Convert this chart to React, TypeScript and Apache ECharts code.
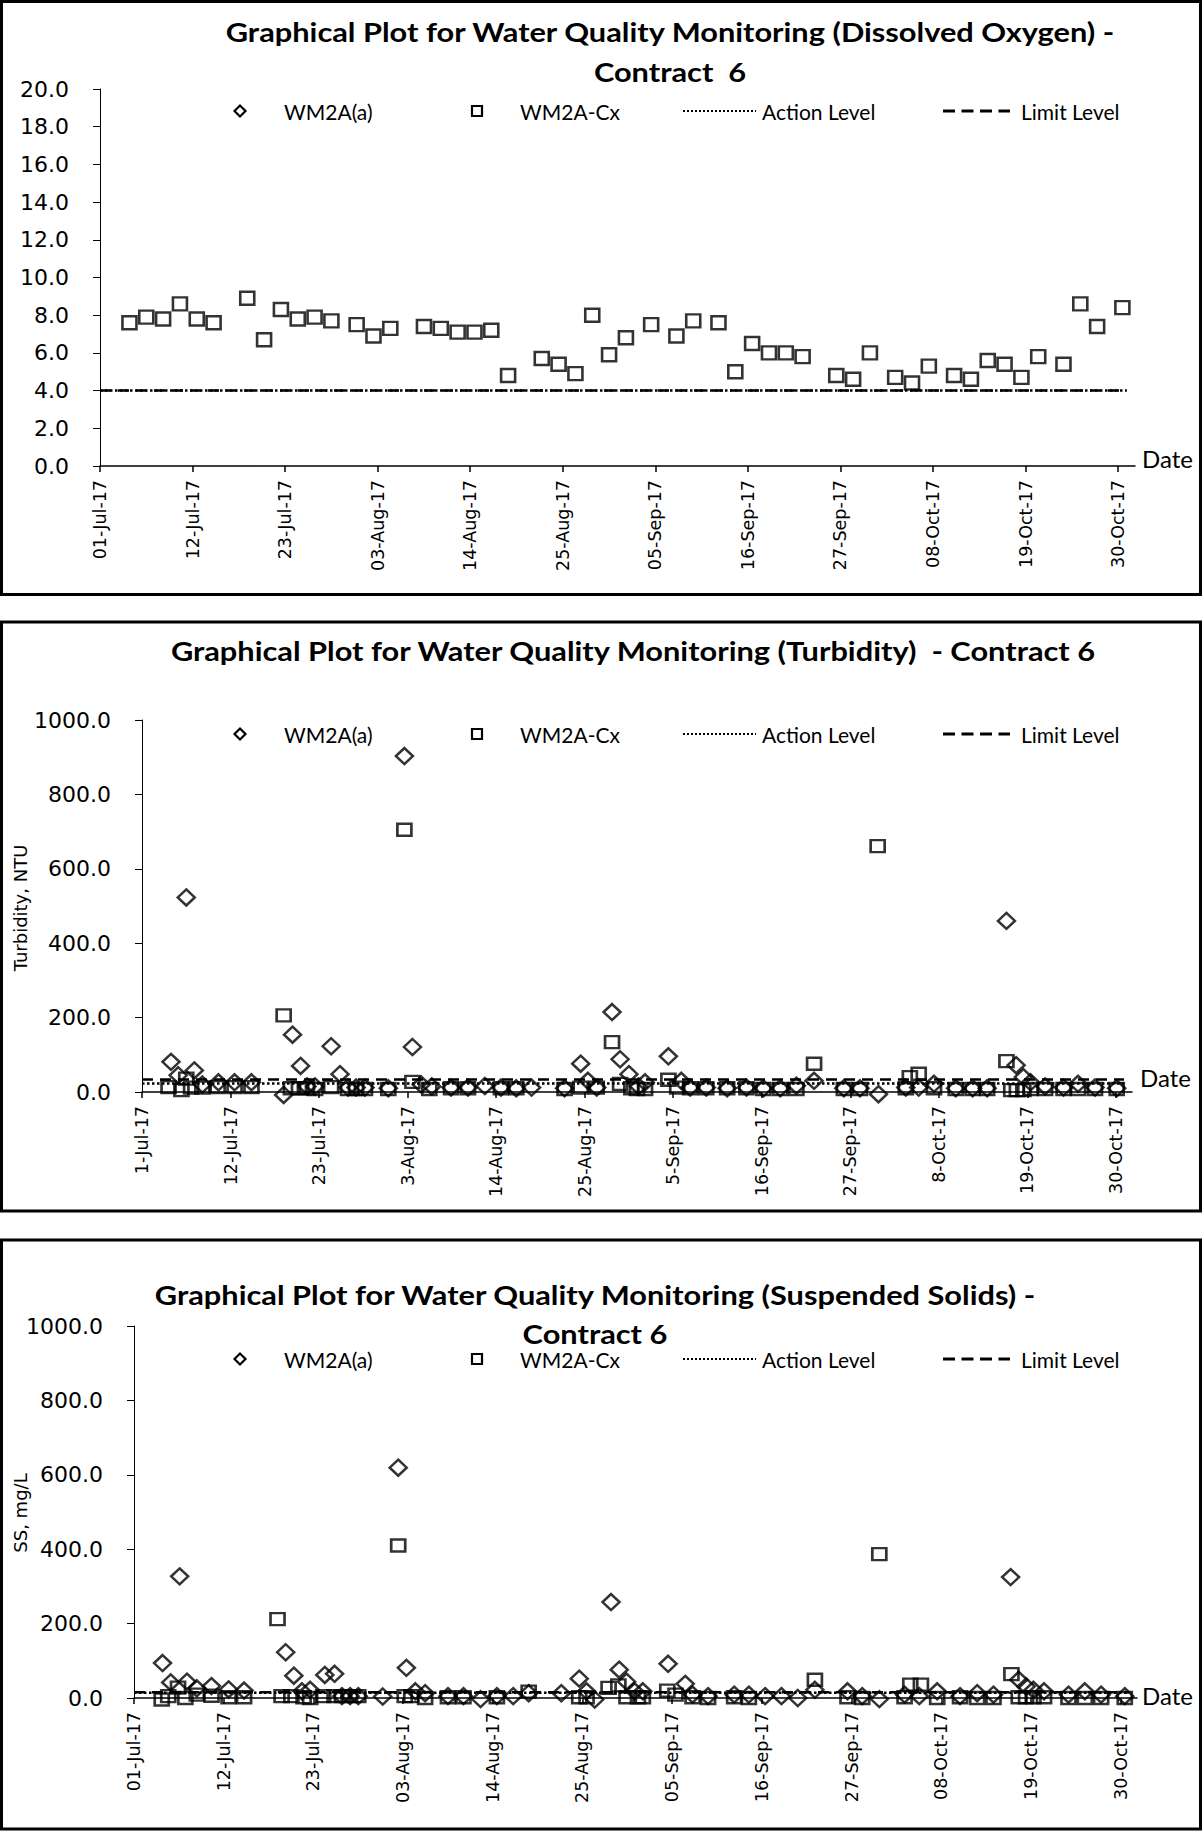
import React, { useEffect, useRef } from "react";
import * as echarts from "echarts";

// ---------- fonts ----------
const SANS = "Lato, 'Liberation Sans', sans-serif";
const VERD = "'DejaVu Sans', Verdana, sans-serif";

// ---------- shared x axis (Excel date serials) ----------
const X_MIN = 42917; // 01-Jul-17
const X_MAX = 43040; // 01-Nov-17
const X_TICKS = [42917, 42928, 42939, 42950, 42961, 42972, 42983, 42994, 43005, 43016, 43027, 43038];
const LEVEL_FROM = 42917;
const LEVEL_TO = 43039;
const MONTHS = ["Jan", "Feb", "Mar", "Apr", "May", "Jun", "Jul", "Aug", "Sep", "Oct", "Nov", "Dec"];

// ---------- Chart 1: Dissolved Oxygen ----------
const doDatesA: number[] = [];
const doValuesA: number[] = [];
const doDatesCx = [
  42920.5, 42922.5, 42924.5, 42926.5, 42928.5, 42930.5, 42934.5, 42936.5, 42938.5, 42940.5,
  42942.5, 42944.5, 42947.5, 42949.5, 42951.5, 42955.5, 42957.5, 42959.5, 42961.5, 42963.5,
  42965.5, 42969.5, 42971.5, 42973.5, 42975.5, 42977.5, 42979.5, 42982.5, 42985.5, 42987.5,
  42990.5, 42992.5, 42994.5, 42996.5, 42998.5, 43000.5, 43004.5, 43006.5, 43008.5, 43011.5,
  43013.5, 43015.5, 43018.5, 43020.5, 43022.5, 43024.5, 43026.5, 43028.5, 43031.5, 43033.5,
  43035.5, 43038.5,
];
const doValuesCx = [
  7.6, 7.9, 7.8, 8.6, 7.8, 7.6, 8.9, 6.7, 8.3, 7.8,
  7.9, 7.7, 7.5, 6.9, 7.3, 7.4, 7.3, 7.1, 7.1, 7.2,
  4.8, 5.7, 5.4, 4.9, 8.0, 5.9, 6.8, 7.5, 6.9, 7.7,
  7.6, 5.0, 6.5, 6.0, 6.0, 5.8, 4.8, 4.6, 6.0, 4.7,
  4.4, 5.3, 4.8, 4.6, 5.6, 5.4, 4.7, 5.8, 5.4, 8.6,
  7.4, 8.4,
];
const doActionLevel = 4.0;
const doLimitLevel = 4.0;

// ---------- Chart 2: Turbidity ----------
const turbDatesA = [
  42920.6, 42921.5, 42922.5, 42923.5, 42924.5, 42926.5, 42928.5, 42930.6, 42934.6, 42935.7,
  42936.7, 42937.5, 42938.5, 42940.5, 42941.6, 42942.6, 42943.6, 42944.7, 42947.6, 42949.6,
  42950.6, 42951.7, 42953.0, 42955.4, 42957.5, 42959.6, 42961.6, 42963.5, 42965.4, 42969.5,
  42971.5, 42972.4, 42973.5, 42975.4, 42976.4, 42977.5, 42978.7, 42979.5, 42982.4, 42984.0,
  42985.1, 42987.1, 42989.7, 42992.1, 42994.2, 42996.3, 42998.3, 43000.5, 43004.2, 43006.2,
  43008.5, 43011.9, 43013.5, 43015.4, 43018.1, 43020.2, 43022.0, 43024.4, 43025.6, 43026.5,
  43027.4, 43029.2, 43031.5, 43033.3, 43035.4, 43038.1,
];
const turbValuesA = [
  81, 45, 523, 58, 20, 26, 26, 26, -8, 154,
  70, 15, 15, 123, 48, 12, 12, 12, 10, 903,
  121, 20, 15, 12, 12, 16, 12, 10, 12, 10,
  76, 30, 12, 215, 88, 48, 15, 26, 96, 30,
  12, 12, 10, 12, 10, 10, 17, 30, 10, 10,
  -6, 12, 12, 22, 10, 10, 10, 460, 72, 40,
  26, 15, 12, 22, 12, 10,
];
const turbDatesCx = [
  42920.3, 42921.9, 42922.5, 42923.1, 42924.5, 42926.4, 42928.5, 42930.6, 42934.6, 42935.5,
  42936.5, 42937.5, 42938.5, 42940.5, 42942.6, 42943.6, 42944.7, 42947.6, 42949.6, 42950.6,
  42952.7, 42955.4, 42957.5, 42961.6, 42963.5, 42969.5, 42971.5, 42973.5, 42975.4, 42976.4,
  42977.8, 42978.5, 42979.5, 42982.4, 42983.5, 42985.1, 42987.1, 42989.7, 42992.1, 42994.2,
  42996.3, 42998.3, 43000.5, 43004.2, 43006.2, 43008.4, 43011.9, 43012.4, 43013.5, 43015.4,
  43018.1, 43020.2, 43022.0, 43024.4, 43025.0, 43025.7, 43026.5, 43027.4, 43029.2, 43031.5,
  43033.3, 43035.4, 43038.1,
];
const turbValuesCx = [
  13, 5, 36, 12, 12, 13, 13, 13, 206, 10,
  10, 10, 8, 13, 8, 8, 8, 8, 705, 27,
  8, 10, 10, 10, 10, 8, 12, 12, 134, 22,
  10, 8, 8, 33, 12, 10, 10, 10, 10, 8,
  8, 8, 76, 8, 8, 661, 10, 40, 49, 10,
  8, 8, 8, 83, 5, 5, 5, 8, 8, 8,
  8, 8, 8,
];
const turbActionLevel = 22.6;
const turbLimitLevel = 33.4;

// ---------- Chart 3: Suspended Solids ----------
const ssDatesA = [
  42920.5, 42921.5, 42922.6, 42923.5, 42924.7, 42926.5, 42928.6, 42930.5, 42935.6, 42936.6,
  42937.6, 42938.6, 42940.4, 42941.6, 42942.5, 42943.5, 42944.5, 42947.5, 42949.4, 42950.4,
  42951.5, 42952.7, 42955.5, 42957.4, 42959.5, 42961.5, 42963.5, 42965.4, 42969.4, 42971.6,
  42972.5, 42973.5, 42975.5, 42976.5, 42977.4, 42978.4, 42979.4, 42982.5, 42984.6, 42985.5,
  42987.4, 42990.6, 42992.4, 42994.4, 42996.4, 42998.4, 43000.5, 43004.5, 43006.3, 43008.4,
  43011.5, 43013.3, 43015.5, 43018.3, 43020.4, 43022.4, 43024.5, 43025.5, 43026.4, 43027.3,
  43028.6, 43031.6, 43033.6, 43035.6, 43038.5,
];
const ssValuesA = [
  94, 42, 327, 44, 26, 32, 23, 20, 123, 60,
  18, 22, 62, 65, 5, 5, 5, 4, 619, 81,
  18, 13, 5, 5, -3, 5, 5, 13, 13, 52,
  18, -4, 258, 76, 44, 18, 18, 92, 38, 9,
  5, 9, 9, 5, 5, 0, 22, 18, 5, -3,
  9, 5, 18, 5, 13, 9, 325, 49, 31, 22,
  18, 9, 18, 9, 5,
];
const ssDatesCx = [
  42920.4, 42921.2, 42922.4, 42923.3, 42924.7, 42926.5, 42928.6, 42930.5, 42934.6, 42935.1,
  42936.3, 42937.8, 42938.6, 42940.2, 42941.6, 42942.5, 42943.5, 42944.5, 42949.4, 42950.2,
  42951.0, 42952.7, 42955.5, 42957.4, 42961.5, 42965.4, 42971.6, 42972.5, 42975.2, 42976.4,
  42977.4, 42978.8, 42979.4, 42982.4, 42983.4, 42985.5, 42987.4, 42990.6, 42992.4, 43000.5,
  43004.5, 43006.3, 43008.4, 43011.5, 43012.2, 43013.5, 43015.5, 43018.3, 43020.4, 43022.4,
  43024.6, 43025.5, 43026.4, 43027.3, 43028.6, 43031.6, 43033.6, 43035.6, 43038.5,
];
const ssValuesCx = [
  -4, 5, 28, 0, 9, 6, 2, 2, 212, 5,
  5, 2, 0, 5, 5, 5, 5, 5, 410, 5,
  5, 0, 2, 2, 2, 17, 2, 2, 27, 34,
  2, 2, 2, 20, 9, 2, 0, 2, 0, 49,
  2, 0, 387, 2, 36, 36, 0, 2, 0, 0,
  64, 2, 2, 2, 2, 0, 0, 0, 0,
];
const ssActionLevel = 14.0;
const ssLimitLevel = 15.5;

// ---------- titles / labels ----------
const titleLines = [
  ["Graphical Plot for Water Quality Monitoring (Dissolved Oxygen) -", "Contract  6"],
  ["Graphical Plot for Water Quality Monitoring (Turbidity)  - Contract 6"],
  ["Graphical Plot for Water Quality Monitoring (Suspended Solids) -", "Contract 6"],
];
const yNames = ["", "Turbidity, NTU", "SS, mg/L"];
const seriesNames = ["WM2A(a)", "WM2A-Cx", "Action Level", "Limit Level"];

function serialToLabel(s: number, pad: boolean): string {
  const d = new Date(Date.UTC(1899, 11, 30) + Math.round(s * 86400000));
  const day = d.getUTCDate();
  const dd = pad && day < 10 ? "0" + day : String(day);
  return dd + "-" + MONTHS[d.getUTCMonth()] + "-" + String(d.getUTCFullYear()).slice(2);
}

// ---------- layout (pixels) ----------
const GRIDS = [
  { left: 100, top: 89, width: 1035, height: 377 },
  { left: 142, top: 720, width: 990, height: 372 },
  { left: 134, top: 1326, width: 1003, height: 372 },
];
const FRAMES = [
  { y: 1.5, h: 593 },
  { y: 622, h: 589 },
  { y: 1240, h: 589 },
];
const TITLE_POS = [
  { cx: 670, ys: [31, 71] },
  { cx: 633, ys: [650] },
  { cx: 595, ys: [1294, 1333.5] },
];
const LEGEND_Y = [111, 734, 1359];
const DATE_POS = [
  { x: 1142, y: 458 },
  { x: 1140, y: 1077 },
  { x: 1142, y: 1695 },
];
const YNAME_POS = [null, { x: 20, y: 908 }, { x: 20, y: 1513 }];

function legendGraphic(cy: number): any[] {
  const txt = (x: number, t: string) => ({
    type: "text",
    x,
    y: cy,
    silent: true,
    style: { text: t, font: `21px ${SANS}`, fill: "#000", textAlign: "left", textVerticalAlign: "middle" },
  });
  const stroke = { fill: "none", stroke: "#000", lineWidth: 2.2 };
  return [
    {
      type: "polygon",
      silent: true,
      shape: { points: [[240, cy - 5.5], [245.5, cy], [240, cy + 5.5], [234.5, cy]] },
      style: stroke,
    },
    txt(284, seriesNames[0]),
    { type: "rect", silent: true, shape: { x: 472, y: cy - 5, width: 10, height: 10 }, style: stroke },
    txt(520, seriesNames[1]),
    {
      type: "line",
      silent: true,
      shape: { x1: 683, y1: cy, x2: 756, y2: cy },
      style: { stroke: "#000", lineWidth: 2, lineDash: [2, 2] },
    },
    txt(762, seriesNames[2]),
    {
      type: "line",
      silent: true,
      shape: { x1: 943, y1: cy, x2: 1010, y2: cy },
      style: { stroke: "#000", lineWidth: 3, lineDash: [12, 6.5] },
    },
    txt(1021, seriesNames[3]),
  ];
}

function buildOption(): any {
  const yCfg = [
    { max: 20, interval: 2 },
    { max: 1000, interval: 200 },
    { max: 1000, interval: 200 },
  ];
  const padLabels = [true, false, true];
  const markerStyle = { color: "rgba(0,0,0,0)", borderColor: "#000", borderWidth: 2.5 };

  const data = [
    { aD: doDatesA, aV: doValuesA, cD: doDatesCx, cV: doValuesCx, act: doActionLevel, lim: doLimitLevel },
    { aD: turbDatesA, aV: turbValuesA, cD: turbDatesCx, cV: turbValuesCx, act: turbActionLevel, lim: turbLimitLevel },
    { aD: ssDatesA, aV: ssValuesA, cD: ssDatesCx, cV: ssValuesCx, act: ssActionLevel, lim: ssLimitLevel },
  ];
  const sqSize = [[14, 13], [14, 12], [14, 12]];

  const series: any[] = [];
  data.forEach((d, i) => {
    series.push({
      name: seriesNames[2],
      type: "line",
      xAxisIndex: i,
      yAxisIndex: i,
      data: [[LEVEL_FROM, d.act], [LEVEL_TO, d.act]],
      symbol: "none",
      silent: true,
      lineStyle: { color: "#000", width: 2.5, type: [2.5, 2.5] },
      z: 2,
    });
    series.push({
      name: seriesNames[3],
      type: "line",
      xAxisIndex: i,
      yAxisIndex: i,
      data: [[LEVEL_FROM, d.lim], [LEVEL_TO, d.lim]],
      symbol: "none",
      silent: true,
      lineStyle: { color: "#000", width: 2.5, type: [11, 7] },
      z: 2,
    });
    series.push({
      name: seriesNames[0],
      type: "scatter",
      xAxisIndex: i,
      yAxisIndex: i,
      data: d.aD.map((x, k) => [x, d.aV[k]]),
      symbol: "diamond",
      symbolSize: [17, 16],
      itemStyle: markerStyle,
      clip: false,
      silent: true,
      z: 3,
    });
    series.push({
      name: seriesNames[1],
      type: "scatter",
      xAxisIndex: i,
      yAxisIndex: i,
      data: d.cD.map((x, k) => [x, d.cV[k]]),
      symbol: "rect",
      symbolSize: sqSize[i],
      itemStyle: markerStyle,
      clip: false,
      silent: true,
      z: 4,
    });
  });

  const graphic: any[] = [];
  FRAMES.forEach((f) => {
    graphic.push({
      type: "rect",
      silent: true,
      shape: { x: 1.5, y: f.y, width: 1199, height: f.h },
      style: { fill: "none", stroke: "#000", lineWidth: 3 },
      z: 10,
    });
  });
  TITLE_POS.forEach((p, i) => {
    titleLines[i].forEach((line, k) => {
      graphic.push({
        type: "text",
        x: p.cx,
        y: p.ys[k],
        scaleX: 1.14,
        silent: true,
        style: {
          text: line,
          font: `bold 27px ${SANS}`,
          fill: "#000",
          textAlign: "center",
          textVerticalAlign: "middle",
        },
      });
    });
  });
  LEGEND_Y.forEach((cy) => graphic.push(...legendGraphic(cy)));
  DATE_POS.forEach((p) => {
    graphic.push({
      type: "text",
      x: p.x,
      y: p.y,
      silent: true,
      style: { text: "Date", font: `24px ${SANS}`, fill: "#000", textAlign: "left", textVerticalAlign: "middle" },
    });
  });
  YNAME_POS.forEach((p, i) => {
    if (!p) return;
    graphic.push({
      type: "text",
      x: p.x,
      y: p.y,
      rotation: Math.PI / 2,
      silent: true,
      style: { text: yNames[i], font: `18px ${VERD}`, fill: "#000", textAlign: "center", textVerticalAlign: "middle" },
    });
  });

  return {
    animation: false,
    backgroundColor: "#fff",
    grid: GRIDS.map((g) => ({ ...g, containLabel: false, outerBoundsMode: "none" })),
    xAxis: GRIDS.map((_, i) => ({
      type: "value",
      gridIndex: i,
      min: X_MIN,
      max: X_MAX,
      splitLine: { show: false },
      axisLine: { show: true, onZero: false, lineStyle: { color: "#000", width: 1.5 } },
      axisTick: { show: true, customValues: X_TICKS, length: 6, lineStyle: { color: "#000", width: 1.5 } },
      axisLabel: {
        customValues: X_TICKS,
        rotate: 90,
        margin: 14,
        color: "#000",
        fontFamily: VERD,
        fontSize: 17.5,
        formatter: (v: number) => serialToLabel(v, padLabels[i]),
      },
    })),
    yAxis: GRIDS.map((_, i) => ({
      type: "value",
      gridIndex: i,
      min: 0,
      max: yCfg[i].max,
      interval: yCfg[i].interval,
      splitLine: { show: false },
      axisLine: { show: true, onZero: false, lineStyle: { color: "#000", width: 1 } },
      axisTick: { show: true, length: 7, lineStyle: { color: "#000", width: 1 } },
      axisLabel: {
        margin: 31,
        color: "#000",
        fontFamily: VERD,
        fontSize: 22,
        formatter: (v: number) => v.toFixed(1),
      },
    })),
    series,
    graphic,
  };
}

export default function App() {
  const ref = useRef<HTMLDivElement>(null);
  useEffect(() => {
    if (!ref.current) return;
    const chart = echarts.init(ref.current, undefined, { renderer: "svg" });
    chart.setOption(buildOption());
    return () => chart.dispose();
  }, []);
  return (
    <div
      ref={ref}
      style={{ position: "absolute", left: 0, top: 0, width: 1203, height: 1831, background: "#fff" }}
    />
  );
}
